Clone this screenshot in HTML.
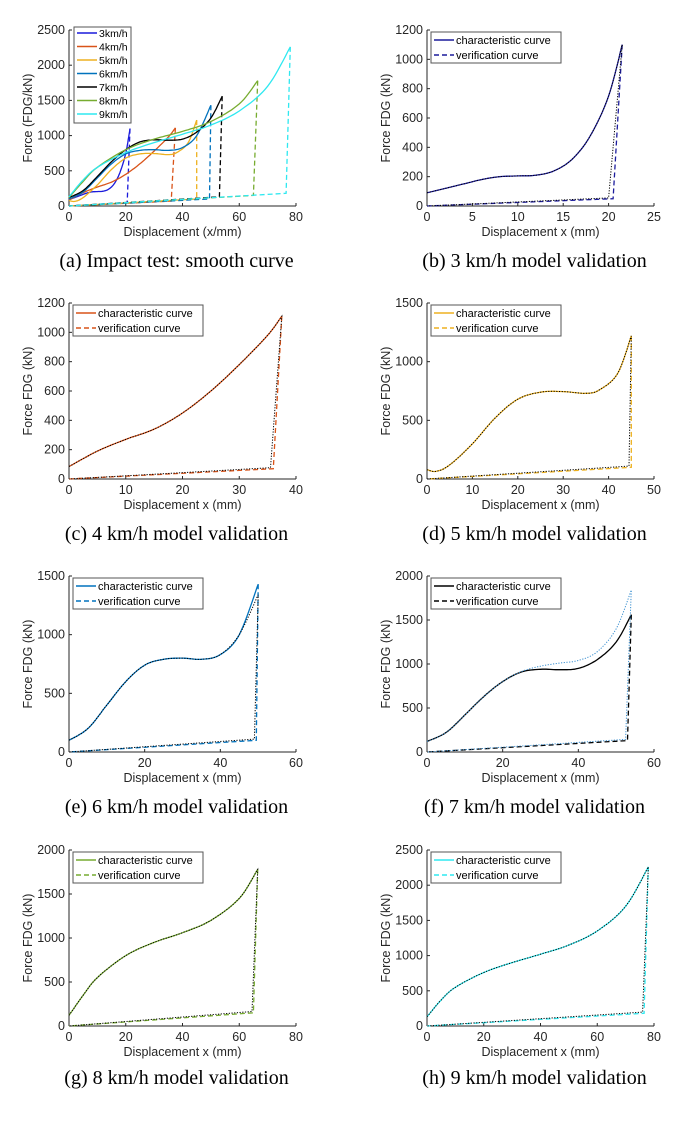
<!DOCTYPE html>
<html><head><meta charset="utf-8">
<style>
body{margin:0;background:#fff;width:697px;height:1139px;overflow:hidden}
svg{display:block}
.tk{font-family:"Liberation Sans",sans-serif;font-size:12.5px;fill:#262626}
.lb{font-family:"Liberation Sans",sans-serif;font-size:12.5px;fill:#262626}
.lg{font-family:"Liberation Sans",sans-serif;font-size:11px;fill:#000}
.cap{font-family:"Liberation Serif",serif;font-size:20px;fill:#000}
</style></head>
<body>
<svg id="fig" width="697" height="1139" viewBox="0 0 697 1139"></svg>
<script>
// ---- data ----
const speeds=["3km/h","4km/h","5km/h","6km/h","7km/h","8km/h","9km/h"];
const colors=["#1a1adb","#d95319","#edb120","#0072bd","#000000","#77ac30","#2ee8f0"];
const x3=[0,2,4,6,8,10,12,14,16,18,20,21.5];
const f3=[90,120,150,180,200,205,210,240,320,480,750,1100];
const x4=[0,5,10,15,20,25,30,35,37.5];
const f4=[85,190,270,340,450,600,780,980,1110];
const x5=[0,2,5,10,15,20,25,30,35,38,42,45];
const f5=[80,65,120,300,520,680,740,745,730,760,900,1220];
const x6=[0,5,10,15,20,25,30,35,40,45,50];
const f6=[100,200,400,600,740,790,800,790,830,1000,1430];
const x7=[0,5,10,15,20,25,30,35,40,45,50,54];
const f7=[120,220,420,630,800,910,940,935,950,1050,1250,1560];
const f7v=[120,220,420,630,800,915,975,1010,1040,1140,1400,1840];
const x8=[0,5,10,20,30,40,50,60,66.5];
const f8=[120,350,550,800,950,1060,1200,1450,1780];
const x9=[0,5,10,20,30,40,50,60,70,78];
const f9=[130,370,550,760,900,1020,1150,1350,1700,2260];
// unloading knee (x, F) per speed
const kneeX=[20.5,36,45,49.5,53,65,76.5];
const kneeF=[50,70,100,100,130,150,180];
const XS=[x3,x4,x5,x6,x7,x8,x9];
const FS=[f3,f4,f5,f6,f7,f8,f9];
// axes ticks
const yTicks=[[0,500,1000,1500,2000,2500],[0,200,400,600,800,1000,1200],[0,200,400,600,800,1000,1200],[0,500,1000,1500],[0,500,1000,1500],[0,500,1000,1500,2000],[0,500,1000,1500,2000],[0,500,1000,1500,2000,2500]];
const xTicks=[[0,20,40,60,80],[0,5,10,15,20,25],[0,10,20,30,40],[0,10,20,30,40,50],[0,20,40,60],[0,20,40,60],[0,20,40,60,80],[0,20,40,60,80]];
const captions=["(a) Impact test: smooth curve","(b) 3 km/h model validation","(c) 4 km/h model validation","(d) 5 km/h model validation","(e) 6 km/h model validation","(f) 7 km/h model validation","(g) 8 km/h model validation","(h) 9 km/h model validation"];

const NS="http://www.w3.org/2000/svg";
const svg=document.getElementById('fig');
function mk(t,a,p){const e=document.createElementNS(NS,t);for(const k in a)e.setAttribute(k,a[k]);(p||svg).appendChild(e);return e;}
function spline(xs,ys){ // catmull-rom sampled
  const out=[];const n=xs.length;
  for(let i=0;i<n-1;i++){
    const p0=i>0?i-1:i,p3=i+2<n?i+2:i+1;
    for(let s=0;s<10;s++){const t=s/10,t2=t*t,t3=t2*t;
      const f=(a,b,c,d)=>0.5*(2*b+(-a+c)*t+(2*a-5*b+4*c-d)*t2+(-a+3*b-3*c+d)*t3);
      out.push([f(xs[p0],xs[i],xs[i+1],xs[p3]),f(ys[p0],ys[i],ys[i+1],ys[p3])]);}
  }
  out.push([xs[n-1],ys[n-1]]);return out;
}
const L=[69,427],T=[30,303,576,850],W=227,H=176;
function panel(idx){
  const col=idx%2,row=Math.floor(idx/2);
  const x0=L[col],y0=T[row];
  const yt=yTicks[idx],xt=xTicks[idx];
  const ymax=yt[yt.length-1],xmax=xt[xt.length-1];
  const sx=v=>x0+v/xmax*W, sy=v=>y0+H-v/ymax*H;
  const g=mk('g',{});  
  const ax=mk('g',{},g);
  mk('line',{x1:x0,y1:y0,x2:x0,y2:y0+H,stroke:'#262626','stroke-width':1},ax);
  mk('line',{x1:x0,y1:y0+H,x2:x0+W,y2:y0+H,stroke:'#262626','stroke-width':1},ax);
  yt.forEach(v=>{mk('line',{x1:x0,x2:x0+3,y1:sy(v),y2:sy(v),stroke:'#262626'},ax);
    const t=mk('text',{x:x0-4,y:sy(v)+4,'text-anchor':'end',class:'tk'},ax);t.textContent=v;});
  xt.forEach(v=>{mk('line',{x1:sx(v),x2:sx(v),y1:y0+H,y2:y0+H-3,stroke:'#262626'},ax);
    const t=mk('text',{x:sx(v),y:y0+H+15,'text-anchor':'middle',class:'tk'},ax);t.textContent=v;});
  const xl=mk('text',{x:x0+W/2,y:y0+H+30,'text-anchor':'middle',class:'lb'},g);
  xl.textContent=idx==0?'Displacement (x/mm)':'Displacement x (mm)';
  
  const yl=mk('text',{x:0,y:0,'text-anchor':'middle',class:'lb',transform:`translate(${x0-37},${y0+H/2}) rotate(-90)`},g);
  yl.textContent=idx==0?'Force (FDG/kN)':'Force FDG (kN)';
  
  const cap=mk('text',{x:x0+W/2-6,y:idx>=6?1084:y0+H+61,'text-anchor':'middle',class:'cap'},g);
  cap.textContent=captions[idx];
  
  const pts=a=>a.map(p=>sx(p[0]).toFixed(1)+','+sy(p[1]).toFixed(1)).join(' ');
  function curve(s,dash,c,w,vf){
    const xs=XS[s],fs=vf||FS[s];
    const load=spline(xs,fs);
    const pk=[xs[xs.length-1],fs[fs.length-1]];
    const cl=mk('polyline',{points:pts(load),fill:'none',stroke:c,'stroke-width':w},g);
    
    const un=mk('polyline',{points:pts([pk,[kneeX[s],kneeF[s]],[0,0]]),fill:'none',stroke:c,'stroke-width':w,'stroke-dasharray':dash||'5,3'},g);
    
    return [load,pk];
  }
  if(idx==0){
    for(let s=0;s<7;s++)curve(s,'5,3',colors[s],1.3);
    const lg=mk('g',{},g);
    mk('rect',{x:74,y:27,width:57,height:96,fill:'#fff',stroke:'#555'},lg);
    speeds.forEach((s,i)=>{const yy=33+i*13.5;
      mk('line',{x1:77,x2:97,y1:yy,y2:yy,stroke:colors[i],'stroke-width':1.5},lg);
      const t=mk('text',{x:99,y:yy+4,class:'lg',style:'font-size:10.5px'},lg);t.textContent=s;
      });
  } else {
    const s=idx-1;
    const c=s==0?'#1c1c9c':colors[s];
    curve(s,'5,3',c,1.3);
    const oc=s==4?'#3a8fd0':'#000';
    const vf=s==4?f7v:(s==3?FS[s].map((v,i)=>i==FS[s].length-1?1340:v):null);
    const xs=XS[s],fs=vf||FS[s];
    const load=spline(xs,fs);const pk=[xs[xs.length-1],fs[fs.length-1]];
    const ov=mk('polyline',{points:pts(load.concat([pk,[kneeX[s]-0.5,kneeF[s]*1.1],[0,0]])),fill:'none',stroke:oc,'stroke-width':1,'stroke-dasharray':'1.2,1.5'},g);
    
    const lg=mk('g',{},g);
    mk('rect',{x:x0+4,y:y0+2,width:130,height:31,fill:'#fff',stroke:'#555'},lg);
    mk('line',{x1:x0+7,x2:x0+27,y1:y0+10,y2:y0+10,stroke:c,'stroke-width':1.5},lg);
    mk('line',{x1:x0+7,x2:x0+27,y1:y0+25,y2:y0+25,stroke:c,'stroke-width':1.5,'stroke-dasharray':'5,3'},lg);
    const t1=mk('text',{x:x0+29,y:y0+14,class:'lg'},lg);t1.textContent='characteristic curve';
    
    const t2=mk('text',{x:x0+29,y:y0+29,class:'lg'},lg);t2.textContent='verification curve';
    
  }
}
for(let i=0;i<8;i++)panel(i);
</script>
</body></html>
